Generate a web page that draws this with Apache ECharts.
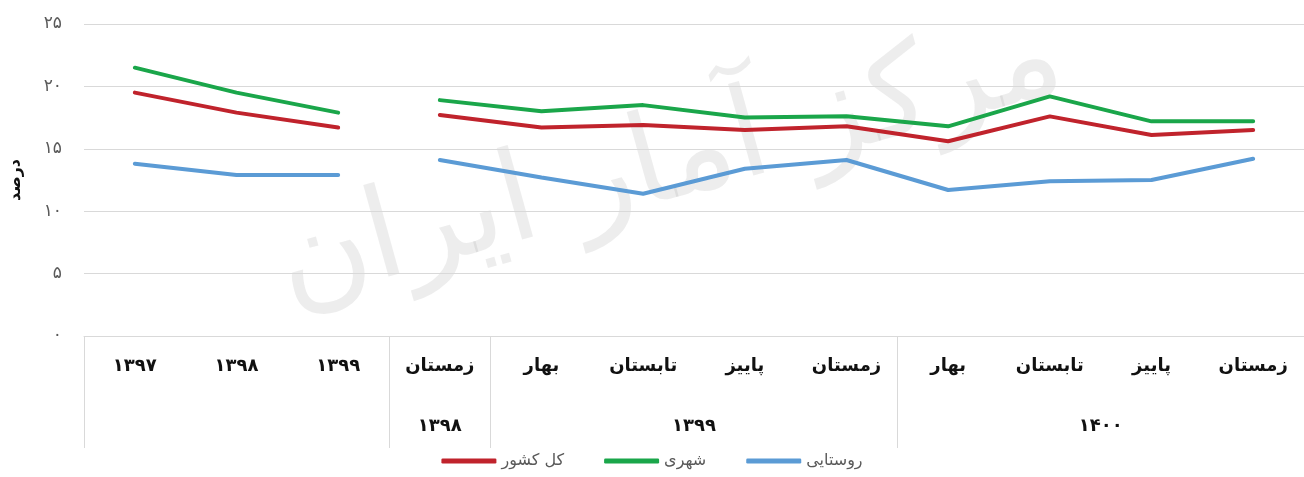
<!DOCTYPE html>
<html>
<head>
<meta charset="utf-8">
<script src="https://cdn.jsdelivr.net/npm/echarts@6/dist/echarts.min.js"></script>
<style>
  html, body { margin: 0; padding: 0; background: #fff; }
  #chart { width: 1304px; height: 477px; }
</style>
</head>
<body>
<div id="chart"></div>
<script>
// categories (annual values, then quarterly)
const categories = ['۱۳۹۷', '۱۳۹۸', '۱۳۹۹', 'زمستان', 'بهار', 'تابستان', 'پاییز', 'زمستان', 'بهار', 'تابستان', 'پاییز', 'زمستان'];
// group boundaries (category index) and the label of each span
const groupBounds = [0, 3, 4, 8, 12];
const groupLabels = ['', '۱۳۹۸', '۱۳۹۹', '۱۴۰۰'];
// number of leading annual points (line breaks after them)
const annualCount = 3;

const seriesNames = ['کل کشور', 'شهری', 'روستایی'];
const total = [19.5, 17.9, 16.7, 17.7, 16.7, 16.9, 16.5, 16.8, 15.6, 17.6, 16.1, 16.5];
const urban = [21.5, 19.5, 17.9, 18.9, 18.0, 18.5, 17.5, 17.6, 16.8, 19.2, 17.2, 17.2];
const rural = [13.8, 12.9, 12.9, 14.1, 12.7, 11.4, 13.4, 14.1, 11.7, 12.4, 12.5, 14.2];

const yTicks = [0, 5, 10, 15, 20, 25];
const yName = 'درصد';
const watermark = 'مرکز آمار ایران';

const colors = ['#c0232c', '#1aa64a', '#5b9bd5'];
const faDigits = '۰۱۲۳۴۵۶۷۸۹';
const toFa = v => String(v).replace(/[0-9]/g, d => faDigits[d]);

const chart = echarts.init(document.getElementById('chart'));

const series = [];
[total, urban, rural].forEach((vals, k) => {
  const a = vals.map((v, i) => i < annualCount ? v : null);
  const b = vals.map((v, i) => i >= annualCount ? v : null);
  [a, b].forEach(d => {
    series.push({
      name: seriesNames[k],
      type: 'line',
      data: d,
      showSymbol: false,
      connectNulls: false,
      color: colors[k],
      lineStyle: { width: 4, color: colors[k], cap: 'round' },
      emphasis: { disabled: true }
    });
  });
});

const centers = groupLabels.map((_, i) => (groupBounds[i] + groupBounds[i + 1]) / 2);

chart.setOption({
  animation: false,
  textStyle: { fontFamily: 'DejaVu Sans' },
  graphic: [{
    type: 'text',
    x: 670,
    y: 165,
    rotation: 0.27,
    style: {
      text: watermark,
      fontSize: 125,
      fontFamily: 'DejaVu Sans',
      align: 'center',
      verticalAlign: 'middle',
      fill: 'rgba(150,150,150,0.17)'
    },
    z: -1
  }],
  legend: {
    bottom: 3,
    left: 'center',
    icon: 'roundRect',
    itemWidth: 55,
    itemHeight: 5,
    itemGap: 40,
    data: seriesNames,
    textStyle: { fontSize: 16, color: '#595959', fontFamily: 'DejaVu Sans' }
  },
  grid: { left: 82, right: -9, top: 24, bottom: 141 },
  xAxis: [{
    type: 'category',
    data: categories,
    boundaryGap: true,
    axisLine: { show: true, lineStyle: { color: '#d9d9d9' } },
    axisTick: { show: false },
    axisLabel: {
      interval: 0,
      margin: 21,
      fontSize: 18,
      fontWeight: 'bold',
      color: '#111',
      fontFamily: 'DejaVu Sans'
    }
  }, {
    type: 'value',
    position: 'bottom',
    min: groupBounds[0],
    max: groupBounds[groupBounds.length - 1],
    axisLine: { show: false },
    splitLine: { show: false },
    axisTick: {
      show: true,
      length: 112,
      customValues: groupBounds,
      lineStyle: { color: '#d9d9d9' }
    },
    axisLabel: {
      show: true,
      margin: 81,
      customValues: centers,
      fontSize: 18,
      fontWeight: 'bold',
      color: '#111',
      fontFamily: 'DejaVu Sans',
      formatter: v => groupLabels[centers.indexOf(v)] || ''
    }
  }],
  yAxis: {
    type: 'value',
    min: yTicks[0],
    max: yTicks[yTicks.length - 1],
    interval: 5,
    name: yName,
    nameLocation: 'middle',
    nameGap: 60,
    nameRotate: 90,
    nameTextStyle: { fontSize: 16, fontWeight: 'bold', color: '#111', fontFamily: 'DejaVu Sans' },
    axisLine: { show: false },
    axisTick: { show: false },
    splitLine: { lineStyle: { color: '#d9d9d9' } },
    axisLabel: {
      margin: 22,
      fontSize: 17,
      color: '#595959',
      formatter: v => toFa(v)
    }
  },
  series: series
});
</script>
</body>
</html>
